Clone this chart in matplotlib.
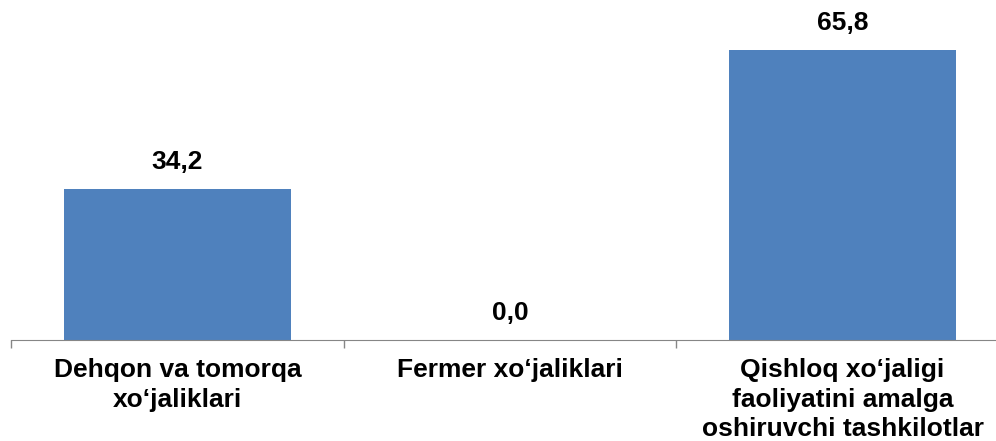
import matplotlib.pyplot as plt

plt.rcParams['font.family'] = ['Liberation Sans', 'DejaVu Sans']

categories = ["Dehqon va tomorqa\nxo\u2018jaliklari",
              "Fermer xo\u2018jaliklari",
              "Qishloq xo\u2018jaligi\nfaoliyatini amalga\noshiruvchi tashkilotlar"]
values = [34.2, 0.0, 65.8]
value_labels = ["34,2", "0,0", "65,8"]

fig = plt.figure(figsize=(9.96, 4.41), dpi=100)
ax = fig.add_axes([11.25 / 996, 101 / 441, 997.5 / 996, 340 / 441])

x = range(len(values))
ax.bar(x, values, width=0.684, color='#4F81BD')

for xi, v, lab in zip(x, values, value_labels):
    ax.annotate(lab, (xi, v), xytext=(0, 11), textcoords='offset points',
                ha='center', va='bottom', fontsize=19, fontweight='bold')

ax.set_xlim(-0.5, 2.5)
ax.set_ylim(0, 77.15)

ax.set_xticks([-0.5, 0.5, 1.5, 2.5])
ax.set_xticklabels([])
ax.set_xticks(list(x), minor=True)
ax.set_xticklabels(categories, minor=True, fontsize=19, fontweight='bold',
                   linespacing=1.3, va='top')
ax.tick_params(axis='x', which='major', direction='out', length=6,
               color='#868686', width=1)
ax.tick_params(axis='x', which='minor', length=0, pad=13)

for s in ['top', 'right', 'left']:
    ax.spines[s].set_visible(False)
ax.spines['bottom'].set_color('#868686')
ax.set_yticks([])

fig.savefig('out.png', dpi=100)
